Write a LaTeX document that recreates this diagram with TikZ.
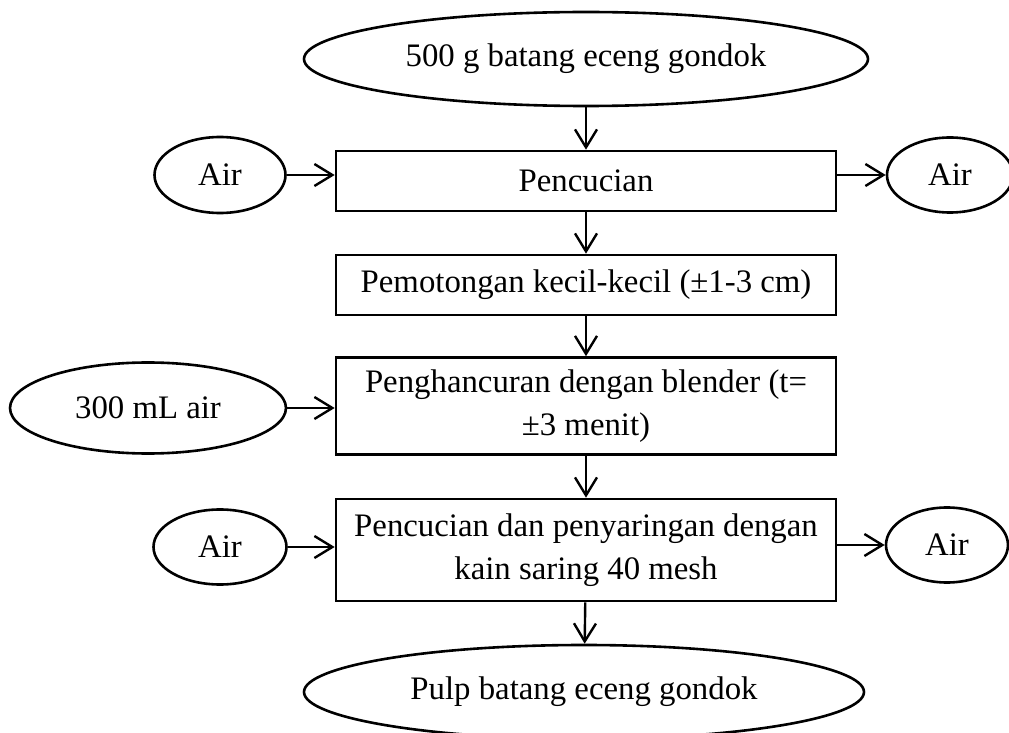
\documentclass[tikz,border=0pt]{standalone}
\usepackage{fontspec}
\setmainfont{Liberation Serif}
\usetikzlibrary{shapes.geometric,arrows.meta}
\tikzset{
  every node/.style={font=\fontsize{16.4pt}{21.5pt}\selectfont},
  oval/.style={draw, line width=1.3pt, ellipse, inner sep=0pt},
  procbox/.style={draw, line width=1.3pt, rectangle, inner sep=0pt, minimum width=250pt, align=center},
  flow/.style={line width=1.2pt, -{Straight Barb[length=9pt,width=11pt,line width=1.2pt]}}
}
\begin{document}
\begin{tikzpicture}[x=0.5pt,y=-0.5pt]
\useasboundingbox (0,0) rectangle (1009,733);
\node[oval, minimum width=282pt, minimum height=47pt] (top) at (586,59) {500 g batang eceng gondok};
\node[procbox, minimum height=30pt] (p1) at (586,181) {Pencucian};
\node[oval, minimum width=65.5pt, minimum height=38pt] (al1) at (220,175) {Air};
\node[oval, minimum width=63pt, minimum height=37.5pt] (ar1) at (950,175) {Air};
\node[procbox, minimum height=30pt] (p2) at (586,285) {Pemotongan kecil-kecil (±1-3 cm)};
\node[procbox, minimum height=48.5pt, text depth=3pt] (p3) at (586,406) {Penghancuran dengan blender (t=\\ ±3 menit)};
\node[oval, minimum width=138pt, minimum height=45.5pt] (ml) at (148,408) {300 mL air};
\node[procbox, minimum height=51pt] (p4) at (586,550) {Pencucian dan penyaringan dengan\\ kain saring 40 mesh};
\node[oval, minimum width=66.5pt, minimum height=37.5pt] (al2) at (220,547) {Air};
\node[oval, minimum width=61pt, minimum height=37.5pt] (ar2) at (947,545) {Air};
\node[oval, minimum width=280pt, minimum height=47pt] (bot) at (584,692) {Pulp batang eceng gondok};
\draw[flow] (top) -- (p1);
\draw[flow] (p1) -- (p2);
\draw[flow] (p2) -- (p3);
\draw[flow] (p3) -- (p4);
\draw[flow] (p4) -- (bot);
\draw[flow] (al1.east) -- (al1.east -| p1.west);
\draw[flow] (ar1.west -| p1.east) -- (ar1.west);
\draw[flow] (ml.east) -- (ml.east -| p3.west);
\draw[flow] (al2.east) -- (al2.east -| p4.west);
\draw[flow] (ar2.west -| p4.east) -- (ar2.west);
\end{tikzpicture}
\end{document}
